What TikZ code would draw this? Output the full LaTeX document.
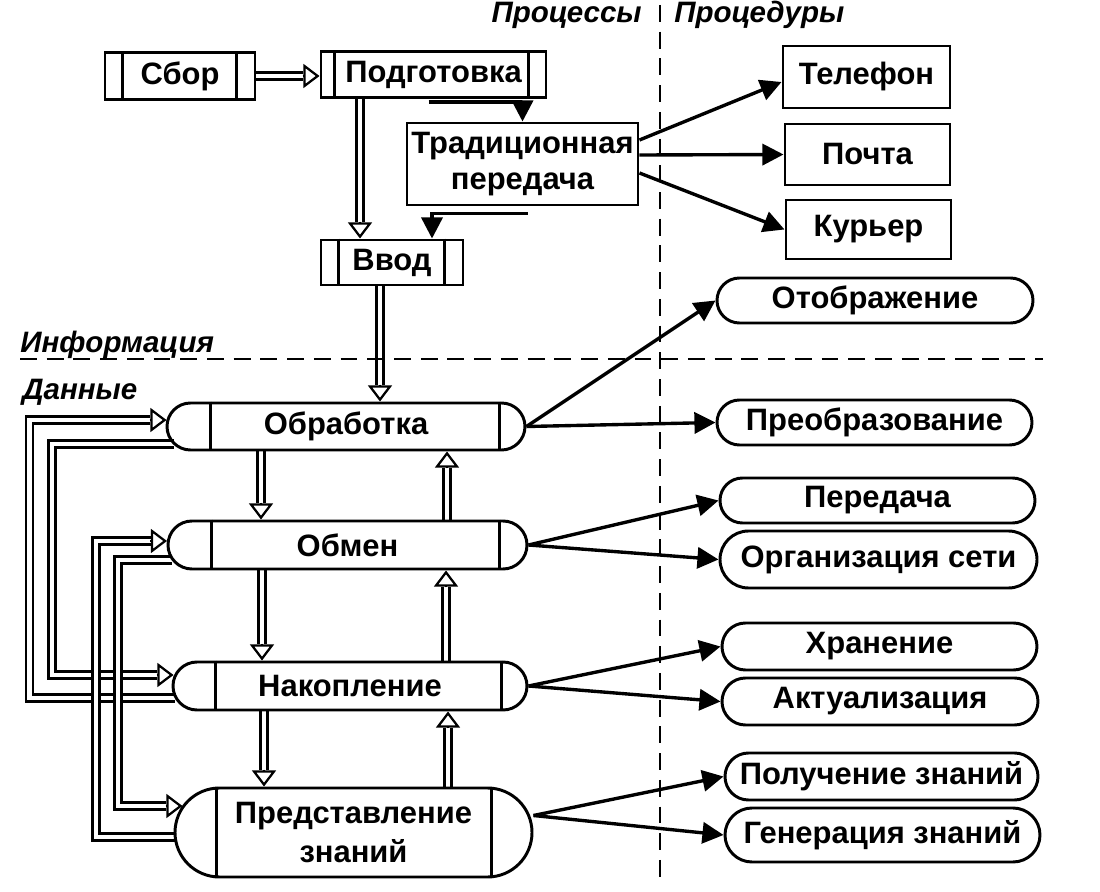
\documentclass[tikz,border=0pt]{standalone}
\usepackage{fontspec}
\setmainfont{Liberation Sans}
\usetikzlibrary{arrows.meta,shapes.misc,calc}
\pgfdeclarelayer{back}
\pgfdeclarelayer{bg}
\pgfsetlayers{back,bg,main}
\begin{document}
\begin{tikzpicture}[x=0.025cm,y=-0.025cm,
  every node/.style={font=\fontsize{22}{25}\selectfont\bfseries, align=center, inner sep=0pt},
  box/.style 2 args={draw, line width=2.1pt, rectangle, minimum width=#1*0.025cm, minimum height=#2*0.025cm},
  pill/.style 2 args={draw, line width=2.1pt, rounded rectangle, minimum width=#1*0.025cm, minimum height=#2*0.025cm},
  bar/.style={line width=2.1pt},
  arr/.style={line width=2.4pt, -{Triangle[length=15pt,width=15pt]}},
  pipe/.style={double, double distance=3.4pt, line width=1.6pt, shorten >=11.5pt},
  ptip/.style={line width=1.6pt, -{Triangle[fill=white,length=11.5pt,width=17pt]}},
  sep/.style={line width=2.1pt, dash pattern=on 12pt off 7pt},
  lab/.style={font=\fontsize{21}{25}\selectfont\bfseries\itshape}
]
\begin{pgfonlayer}{back}
\fill[white] (0,0) rectangle (1100,892);
\end{pgfonlayer}
\useasboundingbox (0,0) rectangle (1100,892);

% separators
\draw[sep] (660,5) -- (660,885);
\draw[sep] (20,359) -- (1043,359);

% labels
\node[lab, anchor=east] (lproc) at (642,15) {Процессы};
\node[lab, anchor=west] (lprcd) at (674,15) {Процедуры};
\node[lab, anchor=west] (linf) at (20,345) {Информация};
\node[lab, anchor=west] (ldan) at (22,392) {Данные};

% top boxes
\node[box={150}{47}] (sb) at (180,76) {Сбор};
\node[box={225}{46}] (pg) at (433.5,74.5) {Подготовка};
\node[box={231}{82}] (tr) at (522.5,164) {Традиционная\\передача};
\node[box={142}{45}] (vv) at (392,262.5) {Ввод};
\node[box={167}{62}] (tel) at (866.5,77) {Телефон};
\node[box={165}{61}] (poc) at (867.5,154.5) {Почта};
\node[box={165}{59}] (kur) at (868.5,229.5) {Курьер};

\draw[bar] ($(sb.north west)+(19,0)$) -- ($(sb.south west)+(19,0)$);
\draw[bar] ($(sb.north east)+(-20,0)$) -- ($(sb.south east)+(-20,0)$);
\draw[bar] ($(pg.north west)+(15,0)$) -- ($(pg.south west)+(15,0)$);
\draw[bar] ($(pg.north east)+(-19,0)$) -- ($(pg.south east)+(-19,0)$);
\draw[bar] ($(vv.north west)+(19,0)$) -- ($(vv.south west)+(19,0)$);
\draw[bar] ($(vv.north east)+(-20,0)$) -- ($(vv.south east)+(-20,0)$);

% left pills
\node[pill={358}{47}] (obr) at (346,426.5) {Обработка};
\node[pill={359}{48}] (obm) at (347.5,545) {Обмен};
\node[pill={354}{48}] (nak) at (350,686) {Накопление};
\node[pill={357}{89}, font=\fontsize{22}{28}\selectfont\bfseries] (prd) at (353.5,832.5) {Представление\\знаний};

\draw[bar] ($(obr.west |- obr.north)+(45,0)$) -- ($(obr.west |- obr.south)+(45,0)$);
\draw[bar] ($(obr.east |- obr.north)+(-27,0)$) -- ($(obr.east |- obr.south)+(-27,0)$);
\draw[bar] ($(obm.west |- obm.north)+(45,0)$) -- ($(obm.west |- obm.south)+(45,0)$);
\draw[bar] ($(obm.east |- obm.north)+(-29,0)$) -- ($(obm.east |- obm.south)+(-29,0)$);
\draw[bar] ($(nak.west |- nak.north)+(44,0)$) -- ($(nak.west |- nak.south)+(44,0)$);
\draw[bar] ($(nak.east |- nak.north)+(-27,0)$) -- ($(nak.east |- nak.south)+(-27,0)$);
\draw[bar] ($(prd.west |- prd.north)+(43,0)$) -- ($(prd.west |- prd.south)+(43,0)$);
\draw[bar] ($(prd.east |- prd.north)+(-42,0)$) -- ($(prd.east |- prd.south)+(-42,0)$);

% right pills
\node[pill={316}{45}] (otb) at (875,300.5) {Отображение};
\node[pill={315}{45}] (pre) at (874.5,422.5) {Преобразование};
\node[pill={315}{45}] (per) at (877.5,500.5) {Передача};
\node[pill={317}{57}] (org) at (878.5,559.5) {Организация сети};
\node[pill={315}{47}] (hra) at (879.5,646.5) {Хранение};
\node[pill={316}{47}] (akt) at (880,701.5) {Актуализация};
\node[pill={313}{47}] (pol) at (881.5,776.5) {Получение знаний};
\node[pill={315}{54}] (gen) at (882.5,835) {Генерация знаний};

% helper x positions
\coordinate (c360) at (360,0);
\coordinate (c380) at (380,0);
\coordinate (c432) at (432,0);
\coordinate (c261) at (261,0);
\coordinate (c262) at (262,0);
\coordinate (c264) at (264,0);
\coordinate (c446) at (446,0);
\coordinate (c447) at (447,0);
\coordinate (c448) at (448,0);
\coordinate (xA) at (29.5,0);
\coordinate (xB) at (52,0);
\coordinate (xC) at (96,0);
\coordinate (xD) at (118,0);
\coordinate (eA) at ($(obr.west)+(1,-6.5)$);
\coordinate (eB) at ($(nak.west)+(2,-11)$);
\coordinate (eC) at ($(obm.west)+(0.5,-4)$);
\coordinate (eD) at ($(prd.west)+(9,-26.5)$);

\begin{pgfonlayer}{bg}
% hollow double arrows
\draw[pipe] (sb.east) -- (sb.east -| pg.west);
\draw[ptip] ($(sb.east -| pg.west)+(-17,0)$) -- (sb.east -| pg.west);
\draw[pipe] (pg.south -| c360) -- (vv.north -| c360);
\draw[ptip] ($(vv.north -| c360)+(0,-17)$) -- (vv.north -| c360);
\draw[pipe] (vv.south -| c380) -- (obr.north -| c380);
\draw[ptip] ($(obr.north -| c380)+(0,-17)$) -- (obr.north -| c380);

\draw[pipe] (obr.south -| c261) -- (obm.north -| c261);
\draw[ptip] ($(obm.north -| c261)+(0,-17)$) -- (obm.north -| c261);
\draw[pipe] (obm.south -| c262) -- (nak.north -| c262);
\draw[ptip] ($(nak.north -| c262)+(0,-17)$) -- (nak.north -| c262);
\draw[pipe] (nak.south -| c264) -- (prd.north -| c264);
\draw[ptip] ($(prd.north -| c264)+(0,-17)$) -- (prd.north -| c264);

\draw[pipe] (obm.north -| c447) -- (obr.south -| c447);
\draw[ptip] ($(obr.south -| c447)+(0,17)$) -- (obr.south -| c447);
\draw[pipe] (nak.north -| c446) -- (obm.south -| c446);
\draw[ptip] ($(obm.south -| c446)+(0,17)$) -- (obm.south -| c446);
\draw[pipe] (prd.north -| c448) -- (nak.south -| c448);
\draw[ptip] ($(nak.south -| c448)+(0,17)$) -- (nak.south -| c448);

% feedback loops
\draw[pipe] ($(nak.west)+(3,12)$) -| (xA |- eA) -- (eA);
\draw[ptip] ($(eA)+(-17,0)$) -- (eA);
\draw[pipe] ($(obr.west)+(8,17.5)$) -| (xB |- eB) -- (eB);
\draw[ptip] ($(eB)+(-17,0)$) -- (eB);
\draw[pipe] ($(prd.west)+(1,4.5)$) -| (xC |- eC) -- (eC);
\draw[ptip] ($(eC)+(-17,0)$) -- (eC);
\draw[pipe] ($(obm.west)+(5,15)$) -| (xD |- eD) -- (eD);
\draw[ptip] ($(eD)+(-17,0)$) -- (eD);

% black arrows
\draw[arr] ($(pg.south)+(-5,3)$) -| (tr.north);
\draw[arr] ($(tr.south)+(5,7)$) -| (vv.north -| c432);
\draw[arr] ($(tr.east)+(0,-24)$) -- ($(tel.west)+(0,5)$);
\draw[arr] ($(tr.east)+(0,-9)$) -- (poc.west);
\draw[arr] ($(tr.east)+(0,9)$) -- (kur.west);
\draw[arr] (obr.east) -- (otb.west);
\draw[arr] (obr.east) -- (pre.west);
\draw[arr] (obm.east) -- (per.west);
\draw[arr] (obm.east) -- (org.west);
\draw[arr] (nak.east) -- (hra.west);
\draw[arr] (nak.east) -- (akt.west);
\draw[arr] ($(prd.east)+(0,-17)$) -- (pol.west);
\draw[arr] ($(prd.east)+(0,-17)$) -- (gen.west);
\end{pgfonlayer}
\end{tikzpicture}
\end{document}
